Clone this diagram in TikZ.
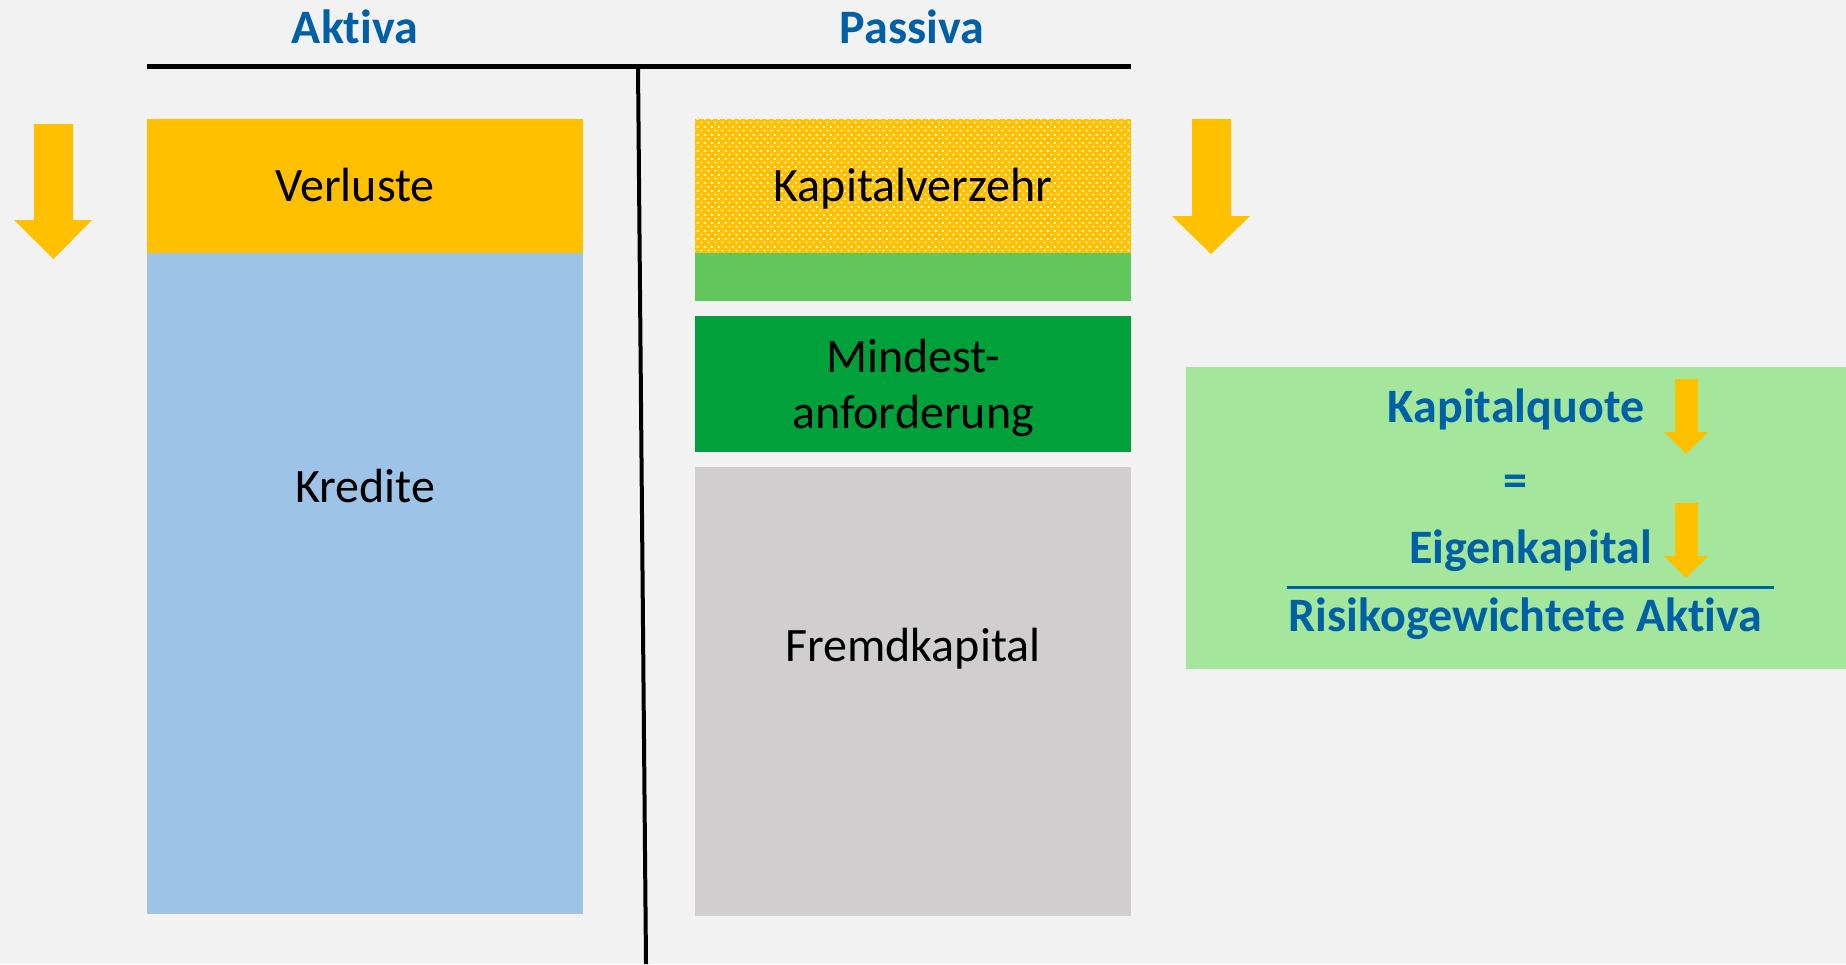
\documentclass[tikz,border=0pt]{standalone}
\usepackage{fontspec}
\setmainfont{Carlito}[Ligatures={NoCommon}]
\usetikzlibrary{patterns.meta}
\definecolor{bg}{HTML}{F2F2F2}
\definecolor{gold}{HTML}{FFC000}
\definecolor{kblue}{HTML}{9DC3E6}
\definecolor{lgreen}{HTML}{61C65C}
\definecolor{dgreen}{HTML}{00A03A}
\definecolor{fgray}{HTML}{D0CECE}
\definecolor{fbox}{HTML}{A4E69C}
\definecolor{tblue}{HTML}{0060A6}
\tikzdeclarepattern{
  name=kvdots,
  type=uncolored,
  bounding box={(0pt,0pt) and (3.65pt,4pt)},
  tile size={(3.65pt,4pt)},
  code={
    \fill (0.3pt,0.3pt) rectangle (1.3pt,1.3pt);
    \fill (2.125pt,2.3pt) rectangle (3.125pt,3.3pt);
  }
}
\tikzset{
  lbl/.style={inner sep=0pt, anchor=base, font=\fontsize{24}{28}\selectfont, text=black},
  ttl/.style={inner sep=0pt, anchor=base, font=\fontsize{24}{28}\selectfont\bfseries, text=tblue},
  bigarrow/.style={fill=gold, draw=none},
}
\begin{document}
\begin{tikzpicture}[x=0.5pt,y=-0.5pt]
\fill[bg] (0,0) rectangle (1846,964);
\useasboundingbox (0,0) rectangle (1846,964);

% T-account lines
\coordinate (hl) at (147,66.5);
\coordinate (hr) at (1131,66.5);
\coordinate (vt) at (638,66.5);
\coordinate (vb) at (646,964);
\draw[line width=2.5pt] (hl) -- (hr);
\draw[line width=2pt] (vt) -- (vb);

% titles
\node[ttl] (aktiva) at (355,43) {Aktiva};
\node[ttl] (passiva) at (912,43) {Passiva};

% Aktiva blocks
\fill[gold] (147,119) rectangle (583,253);
\fill[kblue] (147,253) rectangle (583,914);
\node[lbl] (verluste) at (355,201) {Verluste};
\node[lbl] (kredite) at (365,502) {Kredite};

% Passiva blocks
\fill[gold] (695,119) rectangle (1131,253);
\fill[pattern={kvdots}, pattern color=white] (695,119) rectangle (1131,253);
\fill[lgreen] (695,253) rectangle (1131,301);
\fill[dgreen] (695,316) rectangle (1131,452);
\fill[fgray] (695,467) rectangle (1131,916);
\node[lbl] (kapverz) at (913,201) {Kapitalverzehr};
\node[lbl] (mind1) at (913,372) {Mindest-};
\node[lbl] (mind2) at (913,428) {anforderung};
\node[lbl] (fremd) at (913,661) {Fremdkapital};

% big arrows
\fill[bigarrow] (34,124) -- (73,124) -- (73,220) -- (92,220) -- (53.5,259) -- (14,220) -- (34,220) -- cycle;
\fill[bigarrow] (1192,119) -- (1231,119) -- (1231,216) -- (1250,216) -- (1211,254) -- (1172,216) -- (1192,216) -- cycle;

% formula box
\fill[fbox] (1186,367) rectangle (1846,669);
\node[ttl] (kquote) at (1516,422) {Kapitalquote};
\node[ttl] (eq) at (1515,496) {=};
\node[ttl] (ekap) at (1530.5,563) {Eigenkapital};
\coordinate (fl) at (1287,587);
\coordinate (fr) at (1774,587);
\draw[tblue, line width=1.5pt] (fl) -- (fr);
\node[ttl] (rwa) at (1525.5,631) {Risikogewichtete Aktiva};
\fill[bigarrow] (1675,379) -- (1698,379) -- (1698,432) -- (1708,432) -- (1686,454) -- (1664,432) -- (1675,432) -- cycle;
\fill[bigarrow] (1675,503) -- (1698,503) -- (1698,556) -- (1708,556) -- (1686,578) -- (1664,556) -- (1675,556) -- cycle;
\end{tikzpicture}
\end{document}
